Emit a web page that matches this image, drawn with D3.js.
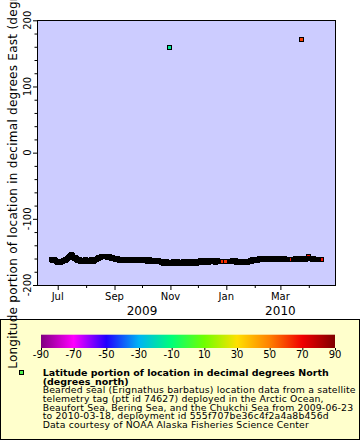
<!DOCTYPE html>
<html><head><meta charset="utf-8">
<script src="https://cdn.jsdelivr.net/npm/d3@7"></script>
<style>body{margin:0;background:#fff;} svg{display:block;font-family:"DejaVu Sans",sans-serif;}</style>
</head><body><svg id="chart" width="360" height="440"></svg>
<script>
// ---------------- DATA ----------------
const trackStart = "2009-06-24"; // one entry per day, null = no fix that day
const trackLon = [
-161.8,-162.5,-161.0,-163.2,-162.0,-163.5,-164.8,-165.9,-166.4,-165.2,
-166.0,-165.1,-164.3,-163.2,-162.4,-161.5,-162.8,-161.9,-160.4,-158.9,
-157.2,-155.8,-154.6,-156.1,-157.9,-159.3,-158.4,-160.2,-161.6,-162.9,
-163.5,-162.1,-164.0,-163.2,-162.6,-164.1,-163.0,-162.2,-163.8,-162.9,
-163.6,-164.2,-162.7,-163.4,-162.1,-163.9,-164.3,-162.8,-162.0,-161.2,
-160.5,-159.8,-159.1,-158.4,-157.9,-157.2,-156.8,-157.5,-156.6,-157.1,
-156.9,-157.8,-157.3,-158.2,-157.6,-158.8,-159.4,-158.9,-160.1,-159.6,
-160.8,-161.3,-160.7,-161.9,-162.4,-161.8,-162.9,-162.2,-163.1,-162.5,
-161.7,-162.8,-163.3,-162.0,-161.6,-162.7,-163.5,-162.3,-161.9,-163.0,
-162.6,-161.8,-162.9,-163.4,-162.1,-161.5,-162.8,-163.2,-162.4,-161.9,
-162.7,-163.6,-162.2,-161.7,-162.9,-163.8,-162.5,-162.0,-163.1,-163.9,
-162.8,-163.5,-164.2,-163.0,-162.6,-163.9,-164.4,-163.3,-164.8,-165.2,
-165.8,-164.2,-166.9,-165.5,-167.8,-166.2,-164.9,-167.5,-166.1,-168.0,
-165.3,-166.9,-167.6,-164.6,-166.4,-168.1,-165.8,-167.0,-164.9,-166.7,
-167.9,-165.4,-166.6,-168.2,-164.8,-166.3,-167.7,-165.6,-166.9,-164.7,
-166.5,-167.8,-165.1,-166.0,-167.3,-164.9,-166.2,-165.4,-167.1,-164.8,
-165.6,-164.0,-165.9,-163.2,-164.7,-165.8,-163.5,-164.9,-162.6,-165.3,
-164.1,-162.9,-165.7,-163.8,-164.6,-162.7,-165.2,-164.0,-163.3,-165.5,
-164.2,-163.1,-165.0,-164.3,null,null,-164.8,null,null,null,
-164.9,null,null,null,null,-163.8,-165.1,-164.4,-163.6,-165.2,
-164.0,-163.3,-165.4,-164.6,-163.9,-165.6,-164.3,-165.8,-164.9,-166.0,
-165.3,-164.6,-166.1,-165.0,-165.4,null,null,-163.4,-162.6,-163.9,
-162.2,-163.6,-162.9,-161.8,-163.3,-162.5,-161.4,-160.6,-161.9,-160.3,
-161.5,-160.4,-161.8,-160.7,-161.2,-160.1,-161.6,-160.9,-161.3,-160.5,
-161.7,-160.8,-161.1,-160.3,-161.5,-160.6,-161.9,-160.9,-161.2,-160.4,
-161.4,-160.7,-161.8,-161.0,-160.5,-161.6,-160.8,-161.3,-161.1,null,
null,-161.2,null,null,-160.9,-161.5,-160.6,-161.3,-160.8,-161.7,
-160.5,-161.1,-160.7,-161.4,-160.9,-161.6,-160.3,-161.0,-160.6,-159.8,
-160.4,-157.2,-160.1,-159.8,-160.5,-161.2,-160.3,-161.0,-161.6,-160.8,
-161.5,-162.0,-161.3,null,null,-162.2
];
const trackLat = [
70.8,70.9,71.0,70.7,70.9,71.1,70.8,71.0,70.6,70.9,
71.2,70.8,70.5,70.9,71.1,70.7,70.4,70.6,70.9,70.3,
70.1,70.5,70.2,69.8,70.4,70.0,69.7,70.2,69.9,69.6,
70.0,69.8,69.5,69.9,69.7,69.4,69.8,69.6,69.3,69.7,
69.5,69.2,69.6,69.4,69.1,69.5,69.3,69.0,69.4,69.2,
69.0,68.8,69.1,68.7,68.9,68.6,68.8,68.5,68.7,68.4,
68.6,68.3,68.5,68.2,68.4,68.1,68.3,68.0,68.2,67.9,
68.1,67.8,68.0,67.7,67.9,67.6,67.8,67.5,67.7,67.4,
67.6,67.3,67.5,67.2,67.4,67.1,67.3,67.0,67.2,66.9,
67.1,66.8,67.0,66.7,66.9,66.6,66.8,66.5,66.7,66.4,
66.6,66.3,66.5,66.2,66.4,66.1,66.3,66.0,66.2,65.9,
66.1,65.8,66.0,65.7,65.9,65.6,65.8,65.5,65.7,65.4,
66.6,66.3,66.5,66.2,66.4,66.1,66.3,66.0,66.2,65.9,
66.1,65.8,66.0,65.7,65.9,65.6,65.8,65.5,65.7,65.4,
65.6,65.3,65.5,65.2,65.4,65.1,65.3,65.0,65.2,64.9,
65.1,64.8,65.0,64.7,64.9,64.6,64.8,64.5,64.7,64.4,
64.6,64.3,64.5,64.2,64.4,64.1,64.3,64.0,64.2,63.9,
64.1,63.8,64.0,63.7,63.9,63.6,63.8,63.5,63.7,63.4,
63.6,63.3,63.5,63.2,null,null,63.4,null,null,null,
63.3,null,null,null,null,63.6,63.2,63.5,63.7,63.4,
63.8,63.5,63.9,63.6,64.0,63.7,64.1,63.8,64.2,63.9,
64.3,64.0,64.4,64.1,64.5,null,null,64.2,64.6,64.3,
64.7,64.4,64.8,64.5,64.9,64.6,65.0,64.7,65.1,64.8,
65.2,64.9,65.3,65.0,65.4,65.1,65.5,65.2,65.6,65.3,
65.7,65.4,65.8,65.5,65.9,65.6,66.0,65.7,66.1,65.8,
66.2,65.9,66.3,66.0,66.4,66.1,66.5,66.2,66.6,null,
null,66.7,null,null,66.9,66.6,67.0,66.7,67.1,66.8,
67.2,66.9,67.3,67.0,67.4,67.1,67.5,67.2,67.6,67.3,
67.7,67.4,67.8,67.5,67.9,67.6,68.0,67.7,68.1,67.8,
68.2,67.9,68.3,null,null,68.0
];
const outlierDates = ["2009-10-31", "2010-03-24"];
const outlierLon = [158.5, 170.8];
const outlierLat = [-15, 60];

const xDomain = ["2009-06-09T12:00", "2010-04-29T14:00"];
const yDomain = [-200, 200];
const yMajorTicks = [-200, -100, 0, 100, 200];
const yMinorTicks = [-180,-160,-140,-120,-80,-60,-40,-20,20,40,60,80,120,140,160,180];
const monthMajorDates = ["2009-07-01","2009-09-01","2009-11-01","2010-01-01","2010-03-01"];
const monthMajorLabels = ["Jul","Sep","Nov","Jan","Mar"];
const monthMinorDates = ["2009-08-01","2009-10-01","2009-12-01","2010-02-01","2010-04-01"];
const yearLabels = ["2009", "2010"];
const yearLabelDates = ["2009-10-01", "2010-03-01"];

const colorStops = [-90,-70,-50,-30,-10,10,30,50,70,90];
const colorValues = ["#800080","#ff00ff","#2000ff","#00b4f4","#00ff78","#70ff00","#ffe000","#ff8000","#f00000","#800000"];

const yTitle = "Longitude portion of location in decimal degrees East (degrees_east)";
const legendTitle = ["Latitude portion of location in decimal degrees North", "(degrees_north)"];
const legendLines = [
  "Bearded seal (Erignathus barbatus) location data from a satellite",
  "telemetry tag (ptt id 74627) deployed in the Arctic Ocean,",
  "Beaufort Sea, Bering Sea, and the Chukchi Sea from 2009-06-23",
  "to 2010-03-18, deployment id 555f707be36c4f2a4a8b456d",
  "Data courtesy of NOAA Alaska Fisheries Science Center"
];

// ---------------- CHART ----------------
const svg = d3.select("#chart");
const P = {l: 38, r: 335, t: 20.3, b: 285};
const parseD = d3.timeParse("%Y-%m-%d");
const parseDT = d3.timeParse("%Y-%m-%dT%H:%M");

const x = d3.scaleTime().domain(xDomain.map(parseDT)).range([P.l, P.r]);
const y = d3.scaleLinear().domain(yDomain).range([P.b, P.t]);
const color = d3.scaleLinear().domain(colorStops).range(colorValues).clamp(true);

svg.append("rect").attr("width", 360).attr("height", 440).attr("fill", "#fff");

// plot background
svg.append("rect").attr("x", 37.5).attr("y", 20.5).attr("width", 298).attr("height", 265)
  .attr("fill", "#ccccff");

svg.append("clipPath").attr("id", "clip").append("rect")
  .attr("x", 38).attr("y", 21).attr("width", 297).attr("height", 264);

const start = parseD(trackStart);
const track = [];
trackLon.forEach((v, i) => {
  if (v === null) return;
  track.push({date: d3.timeDay.offset(start, i), lon: v, lat: trackLat[i]});
});
const outliers = outlierDates.map((d, i) => ({date: parseD(d), lon: outlierLon[i], lat: outlierLat[i]}));

// markers: all fills first, then all outlines on top
function squares(g, pts) {
  const fills = g.append("g"), lines = g.append("g");
  const place = sel => sel
    .attr("x", d => Math.floor(x(d.date)) - 1.5)
    .attr("y", d => Math.floor(y(d.lon)) - 1.5)
    .attr("width", 4).attr("height", 4)
    .attr("shape-rendering", "crispEdges");
  fills.selectAll("rect").data(pts).join("rect").call(place)
    .attr("fill", d => color(d.lat)).attr("stroke", "none");
  lines.selectAll("rect").data(pts).join("rect").call(place)
    .attr("fill", "none").attr("stroke", "#000").attr("stroke-width", 1);
}
const pg = svg.append("g").attr("clip-path", "url(#clip)");
squares(pg.append("g"), track);
squares(pg.append("g"), outliers);

// frame
svg.append("rect").attr("x", 37.5).attr("y", 20.5).attr("width", 298).attr("height", 265)
  .attr("fill", "none").attr("stroke", "#000").attr("stroke-width", 1);

// y axis ticks
const yMaj = svg.append("g").attr("transform", "translate(37.5,0)")
  .call(d3.axisLeft(y).tickValues(yMajorTicks).tickSize(4.5).tickFormat(""));
const yMin = svg.append("g").attr("transform", "translate(37.5,0)")
  .call(d3.axisLeft(y).tickValues(yMinorTicks).tickSize(3).tickFormat(""));
[yMaj, yMin].forEach(g => { g.select(".domain").remove(); g.selectAll("line").attr("stroke", "#000"); });
svg.append("g").selectAll("text").data(yMajorTicks).join("text")
  .attr("transform", d => `translate(30.5,${y(d)}) rotate(-90)`)
  .attr("text-anchor", "middle").attr("font-size", 10).attr("fill", "#000")
  .text(d => d);

// x axis ticks
const xMaj = svg.append("g").attr("transform", "translate(0,285)")
  .call(d3.axisBottom(x).tickValues(monthMajorDates.map(parseD)).tickSize(5).tickFormat(""));
const xMin = svg.append("g").attr("transform", "translate(0,285)")
  .call(d3.axisBottom(x).tickValues(monthMinorDates.map(parseD)).tickSize(3).tickFormat(""));
[xMaj, xMin].forEach(g => { g.select(".domain").remove(); g.selectAll("line").attr("stroke", "#000"); });
svg.append("g").selectAll("text").data(monthMajorDates).join("text")
  .attr("x", (d) => x(parseD(d))).attr("y", 300.3)
  .attr("text-anchor", "middle").attr("font-size", 10).attr("fill", "#000")
  .text((d, i) => monthMajorLabels[i]);
svg.append("g").selectAll("text").data(yearLabelDates).join("text")
  .attr("x", d => x(parseD(d))).attr("y", 315)
  .attr("text-anchor", "middle").attr("font-size", 12).attr("fill", "#000")
  .text((d, i) => yearLabels[i]);

// legend box
svg.append("rect").attr("x", 0.5).attr("y", 319.5).attr("width", 359).attr("height", 120)
  .attr("fill", "#ffffcc").attr("stroke", "#000").attr("stroke-width", 1);

// colorbar
const cb = d3.scaleLinear().domain([-90, 90]).range([41, 335]);
const grad = svg.append("defs").append("linearGradient").attr("id", "cbar")
  .attr("x1", "0%").attr("x2", "100%").attr("y1", "0%").attr("y2", "0%");
colorStops.forEach((s, i) => grad.append("stop")
  .attr("offset", ((s + 90) / 180 * 100) + "%").attr("stop-color", colorValues[i]));
svg.append("rect").attr("x", cb(-90)).attr("y", 334.7).attr("width", cb(90) - cb(-90)).attr("height", 13.3)
  .attr("fill", "url(#cbar)");
const cbAxis = svg.append("g").attr("transform", "translate(0,348)")
  .call(d3.axisBottom(cb).tickValues(colorStops).tickSize(2.5).tickFormat(""));
cbAxis.select(".domain").remove();
cbAxis.selectAll("line").attr("stroke", "#000");
svg.append("g").selectAll("text").data(colorStops).join("text")
  .attr("x", d => cb(d)).attr("y", 358.3)
  .attr("text-anchor", "middle").attr("font-size", 10).attr("fill", "#000")
  .text(d => d);

// legend marker + text
svg.append("rect").attr("x", 19.5).attr("y", 370.5).attr("width", 4).attr("height", 4)
  .attr("fill", "#4cf04c").attr("stroke", "#000").attr("shape-rendering", "crispEdges");
const lh = 8.7;
// spread glyphs so a line spans the same width as in the reference
function spread(sel, target) {
  const node = sel.nodes()[0];
  const w = node.getComputedTextLength();
  const n = node.textContent.length;
  sel.attr("letter-spacing", Math.max(0, (target - w) / n));
}
const tl = svg.append("g").selectAll("text").data(legendTitle).join("text")
  .attr("x", 42.7).attr("y", (d, i) => 375.8 + i * lh)
  .attr("font-size", 9.5).attr("font-weight", "bold").attr("fill", "#000").text(d => d);
spread(tl, 258);
const ll = svg.append("g").selectAll("text").data(legendLines).join("text")
  .attr("x", 42.7).attr("y", (d, i) => 375.8 + (i + 2) * lh)
  .attr("font-size", 9.3).attr("fill", "#000").text(d => d);
spread(ll, 313);

// y axis title (drawn last, over legend box)
svg.append("text").attr("transform", `translate(16.7,${(P.t + P.b) / 2}) rotate(-90)`)
  .attr("text-anchor", "middle").attr("font-size", 12).attr("letter-spacing", 0.27).attr("fill", "#000")
  .text(yTitle);
</script></body></html>
